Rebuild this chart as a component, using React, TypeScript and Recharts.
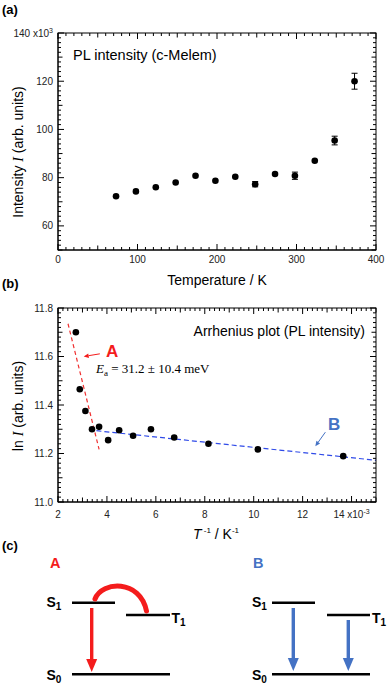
import React from "react";
import { ScatterChart, Scatter, XAxis, YAxis, ErrorBar, ReferenceLine } from "recharts";

const SANS = "'Liberation Sans', Arial, sans-serif";
const SERIF = "'Liberation Serif', 'Times New Roman', serif";

// (a) PL intensity (x10^3 arb. units) against temperature
const TEMP_K = [73, 98, 123, 148, 173, 198, 223, 248, 273, 298, 323, 348, 373];
const PL_INTENSITY = [72.3, 74.3, 76.0, 78.0, 80.8, 78.7, 80.4, 77.3, 81.5, 80.8, 87.0, 95.4, 120.0];
const PL_ERROR = [0, 0, 0, 0, 0, 0, 0, 1.1, 0, 1.5, 0, 1.8, 3.3];

// (b) Arrhenius plot, T^-1 in 10^-3 K^-1
const INV_T = [2.73, 2.89, 3.12, 3.39, 3.68, 4.05, 4.5, 5.07, 5.8, 6.75, 8.15, 10.17, 13.66];
const LN_I = [11.7, 11.465, 11.375, 11.3, 11.31, 11.255, 11.296, 11.273, 11.3, 11.266, 11.24, 11.217, 11.189];

// fitted lines and the pointer arrows, in data units
const FIT_A = [{ x: 2.41, y: 11.735 }, { x: 3.68, y: 11.217 }];
const FIT_B = [{ x: 3.57, y: 11.294 }, { x: 15.0, y: 11.172 }];
const POINTER_A = [{ x: 3.71, y: 11.611 }, { x: 3.05, y: 11.6 }];
const POINTER_B = [{ x: 12.93, y: 11.288 }, { x: 12.52, y: 11.23 }];

const TEMP_DOMAIN = [0, 400];
const INTENSITY_DOMAIN = [50, 140];
const INV_T_DOMAIN = [2, 15];
const LN_I_DOMAIN = [11.0, 11.8];

const TEMP_LABELS = [0, 100, 200, 300, 400];
const INTENSITY_LABELS = [60, 80, 100, 120, 140];
const INV_T_LABELS = [2, 4, 6, 8, 10, 12, 14];
const LN_I_LABELS = [11.0, 11.2, 11.4, 11.6, 11.8];

const RED = "#f41c1c";
const BLUE = "#4472c4";

// plot rectangles on the page (match the chart margins below)
const PLOT_A = { left: 58, right: 376, top: 33, bottom: 250 };
const PLOT_B = { left: 58, right: 376, top: 308, bottom: 502 };

const intensityData = TEMP_K.map((t, i) => ({ x: t, y: PL_INTENSITY[i], err: PL_ERROR[i] }));
const arrheniusData = INV_T.map((x, i) => ({ x, y: LN_I[i] }));

function steps(from: number, to: number, step: number): number[] {
  const out: number[] = [];
  const n = Math.round((to - from) / step);
  for (let i = 0; i <= n; i++) out.push(+(from + i * step).toFixed(4));
  return out;
}

const isMult = (v: number, m: number) => Math.abs(v / m - Math.round(v / m)) < 1e-6;

// tick labels only; the inward tick marks are drawn with the frame
function makeLabel(side: "bottom" | "left", render: (v: number) => React.ReactNode, dy = 12) {
  return function AxisLabel(props: any) {
    const x = Number(props.x);
    const y = Number(props.y);
    const v = Number(props.payload?.value ?? 0);
    return side === "bottom" ? (
      <text x={x} y={y + dy} textAnchor="middle" fontSize={10} fontFamily={SANS} fill="#222">
        {render(v)}
      </text>
    ) : (
      <text x={x - 5} y={y + 3.5} textAnchor="end" fontSize={10} fontFamily={SANS} fill="#222">
        {render(v)}
      </text>
    );
  };
}

const tempLabel = makeLabel("bottom", (v) => String(v), 12.5);
const intensityLabel = makeLabel("left", (v) =>
  v === 140 ? (
    <>
      <tspan>140 x10</tspan>
      <tspan dy={-4} fontSize={7}>3</tspan>
    </>
  ) : (
    String(v)
  ),
);
const invTLabel = makeLabel("bottom", (v) =>
  v === 14 ? (
    <>
      <tspan>14 x10</tspan>
      <tspan dy={-4} fontSize={7}>-3</tspan>
    </>
  ) : (
    String(v)
  ), 15.5);
const lnILabel = makeLabel("left", (v) => v.toFixed(1));

const Dot = (p: { cx?: number; cy?: number }) => <circle cx={p.cx} cy={p.cy} r={3.3} fill="#000" />;

function arrowShape(color: string, head: number) {
  return (p: any) => {
    const { x1, y1, x2, y2 } = p;
    const a = Math.atan2(y2 - y1, x2 - x1);
    const hx = x2 - head * Math.cos(a);
    const hy = y2 - head * Math.sin(a);
    const w = head * 0.45;
    const px = -Math.sin(a) * w;
    const py = Math.cos(a) * w;
    return (
      <g>
        <line x1={x1} y1={y1} x2={hx} y2={hy} stroke={color} strokeWidth={1} />
        <polygon points={`${x2},${y2} ${hx + px},${hy + py} ${hx - px},${hy - py}`} fill={color} />
      </g>
    );
  };
}

// box with inward major / mid / minor ticks on all four sides
function TickFrame({ box, xd, yd, xs, ys }: {
  box: { left: number; right: number; top: number; bottom: number };
  xd: number[]; yd: number[]; xs: number[]; ys: number[];
}) {
  const len = (v: number, s: number[]) => (isMult(v, s[1]) ? 6 : isMult(v, s[2]) ? 4.5 : 3);
  let d = "";
  for (const v of steps(xd[0], xd[1], xs[0])) {
    const x = box.left + ((v - xd[0]) / (xd[1] - xd[0])) * (box.right - box.left);
    const l = len(v, xs);
    d += `M${x},${box.bottom}V${box.bottom - l}M${x},${box.top}V${box.top + l}`;
  }
  for (const v of steps(yd[0], yd[1], ys[0])) {
    const y = box.bottom - ((v - yd[0]) / (yd[1] - yd[0])) * (box.bottom - box.top);
    const l = len(v, ys);
    d += `M${box.left},${y}H${box.left + l}M${box.right},${y}H${box.right - l}`;
  }
  return (
    <g>
      <rect x={box.left} y={box.top} width={box.right - box.left} height={box.bottom - box.top} fill="none" stroke="#000" strokeWidth={1} />
      <path d={d} stroke="#000" strokeWidth={1} fill="none" />
    </g>
  );
}

// plot area (a): x 58..376, y 33..250
function IntensityChart() {
  return (
    <ScatterChart width={392} height={290} margin={{ top: 33, right: 16, bottom: 0, left: 0 }}>
      <XAxis type="number" dataKey="x" domain={TEMP_DOMAIN} ticks={TEMP_LABELS} interval={0} height={40}
        tickSize={0} tickMargin={0} tickLine={false} axisLine={{ stroke: "#000" }} tick={tempLabel} allowDataOverflow />
      <YAxis type="number" dataKey="y" domain={INTENSITY_DOMAIN} ticks={INTENSITY_LABELS} interval={0} width={58}
        tickSize={0} tickMargin={0} tickLine={false} axisLine={{ stroke: "#000" }} tick={intensityLabel} allowDataOverflow />
      <Scatter data={intensityData} shape={Dot} isAnimationActive={false}>
        <ErrorBar dataKey="err" direction="y" width={3} stroke="#000" strokeWidth={1} isAnimationActive={false} />
      </Scatter>
    </ScatterChart>
  );
}

// plot area (b): x 58..376, y 308..502
function ArrheniusChart() {
  return (
    <ScatterChart width={392} height={250} margin={{ top: 18, right: 16, bottom: 0, left: 0 }}>
      <XAxis type="number" dataKey="x" domain={INV_T_DOMAIN} ticks={INV_T_LABELS} interval={0} height={38}
        tickSize={0} tickMargin={0} tickLine={false} axisLine={{ stroke: "#000" }} tick={invTLabel} allowDataOverflow />
      <YAxis type="number" dataKey="y" domain={LN_I_DOMAIN} ticks={LN_I_LABELS} interval={0} width={58}
        tickSize={0} tickMargin={0} tickLine={false} axisLine={{ stroke: "#000" }} tick={lnILabel} allowDataOverflow />
      <ReferenceLine segment={FIT_A} stroke="#f03030" strokeWidth={1.2} strokeDasharray="4 3" ifOverflow="visible" />
      <ReferenceLine segment={FIT_B} stroke="#2f4ae8" strokeWidth={1.2} strokeDasharray="5 3" ifOverflow="visible" />
      <ReferenceLine segment={POINTER_A} shape={arrowShape(RED, 5)} ifOverflow="visible" />
      <ReferenceLine segment={POINTER_B} shape={arrowShape(BLUE, 5)} ifOverflow="visible" />
      <Scatter data={arrheniusData} shape={Dot} isAnimationActive={false} />
    </ScatterChart>
  );
}

// energy level schematic for panel (c)
function Level({ x1, x2, y }: { x1: number; x2: number; y: number }) {
  return <line x1={x1} x2={x2} y1={y} y2={y} stroke="#000" strokeWidth={2.5} />;
}

function DownArrow({ x, y1, y2, color }: { x: number; y1: number; y2: number; color: string }) {
  return (
    <g>
      <line x1={x} x2={x} y1={y1} y2={y2 - 11} stroke={color} strokeWidth={3.4} />
      <polygon points={`${x},${y2} ${x - 5.5},${y2 - 13} ${x + 5.5},${y2 - 13}`} fill={color} />
    </g>
  );
}

function StateLabel({ x, y, s, sub }: { x: number; y: number; s: string; sub: string }) {
  return (
    <text x={x} y={y} fontFamily={SANS} fontWeight="bold" fontSize={14} fill="#000">
      {s}
      <tspan dy={3} fontSize={10}>{sub}</tspan>
    </text>
  );
}

function Overlay() {
  return (
    <svg width={392} height={685} style={{ position: "absolute", left: 0, top: 0, pointerEvents: "none" }}>
      <TickFrame box={PLOT_A} xd={TEMP_DOMAIN} yd={INTENSITY_DOMAIN} xs={[10, 100, 50]} ys={[2, 20, 10]} />
      <TickFrame box={PLOT_B} xd={INV_T_DOMAIN} yd={LN_I_DOMAIN} xs={[0.2, 2, 1]} ys={[0.02, 0.2, 0.1]} />

      <g fontFamily={SANS} fill="#000">
        <text x={2} y={14} fontSize={13} fontWeight="bold">(a)</text>
        <text x={73} y={60} fontSize={14.5}>PL intensity (c-Melem)</text>
        <text transform="translate(23,152) rotate(-90)" textAnchor="middle" fontSize={14}>
          Intensity <tspan fontFamily={SERIF} fontStyle="italic">I</tspan>  (arb. units)
        </text>
        <text x={217} y={285} textAnchor="middle" fontSize={14}>Temperature / K</text>

        <text x={2} y={288} fontSize={13} fontWeight="bold">(b)</text>
        <text x={365} y={336} textAnchor="end" fontSize={14}>Arrhenius plot (PL intensity)</text>
        <text x={106} y={357} fontSize={17} fontWeight="bold" fill={RED}>A</text>
        <text x={96} y={373} fontSize={13} fontFamily={SERIF}>
          <tspan fontStyle="italic">E</tspan>
          <tspan dy={3} fontSize={9}>a</tspan>
          <tspan dy={-3}> = 31.2 ± 10.4 meV</tspan>
        </text>
        <text x={328} y={430} fontSize={17} fontWeight="bold" fill={BLUE}>B</text>
        <text transform="translate(23,406) rotate(-90)" textAnchor="middle" fontSize={14}>
          ln <tspan fontFamily={SERIF} fontStyle="italic">I</tspan> (arb. units)
        </text>
        <text x={216} y={539} textAnchor="middle" fontSize={14}>
          <tspan fontStyle="italic">T</tspan>
          <tspan dy={-6} fontSize={8}> -1</tspan>
          <tspan dy={6}> / K</tspan>
          <tspan dy={-6} fontSize={8}>-1</tspan>
        </text>

        <text x={2} y={550} fontSize={13} fontWeight="bold">(c)</text>
        <text x={50} y={568} fontSize={14.5} fontWeight="bold" fill={RED}>A</text>
        <text x={253} y={568} fontSize={14.5} fontWeight="bold" fill={BLUE}>B</text>
      </g>

      {/* A: S1 -> S0 emission, S1 <-> T1 back transfer */}
      <Level x1={72} x2={115} y={602.7} />
      <Level x1={126} x2={170} y={615} />
      <Level x1={72} x2={170} y={674.3} />
      <StateLabel x={46.5} y={607} s="S" sub="1" />
      <StateLabel x={171.5} y={622.5} s="T" sub="1" />
      <StateLabel x={46.5} y={680} s="S" sub="0" />
      <DownArrow x={91.7} y1={608} y2={672} color={RED} />
      <path d="M 95 599 C 102 581, 140 579, 146.5 611" fill="none" stroke={RED} strokeWidth={5} strokeLinecap="round" />

      {/* B: both S1 and T1 radiate */}
      <Level x1={272} x2={315} y={602.7} />
      <Level x1={327} x2={370} y={615} />
      <Level x1={272} x2={370} y={674.3} />
      <StateLabel x={252} y={607} s="S" sub="1" />
      <StateLabel x={372} y={622.5} s="T" sub="1" />
      <StateLabel x={252} y={680} s="S" sub="0" />
      <DownArrow x={293.3} y1={608} y2={671} color={BLUE} />
      <DownArrow x={348.3} y1={620} y2={671} color={BLUE} />
    </svg>
  );
}

export default function App() {
  return (
    <div style={{ position: "absolute", left: 0, top: 0, width: 392, height: 685, background: "#fff" }}>
      <div style={{ position: "absolute", left: 0, top: 0 }}>
        <IntensityChart />
      </div>
      <div style={{ position: "absolute", left: 0, top: 290 }}>
        <ArrheniusChart />
      </div>
      <Overlay />
    </div>
  );
}
